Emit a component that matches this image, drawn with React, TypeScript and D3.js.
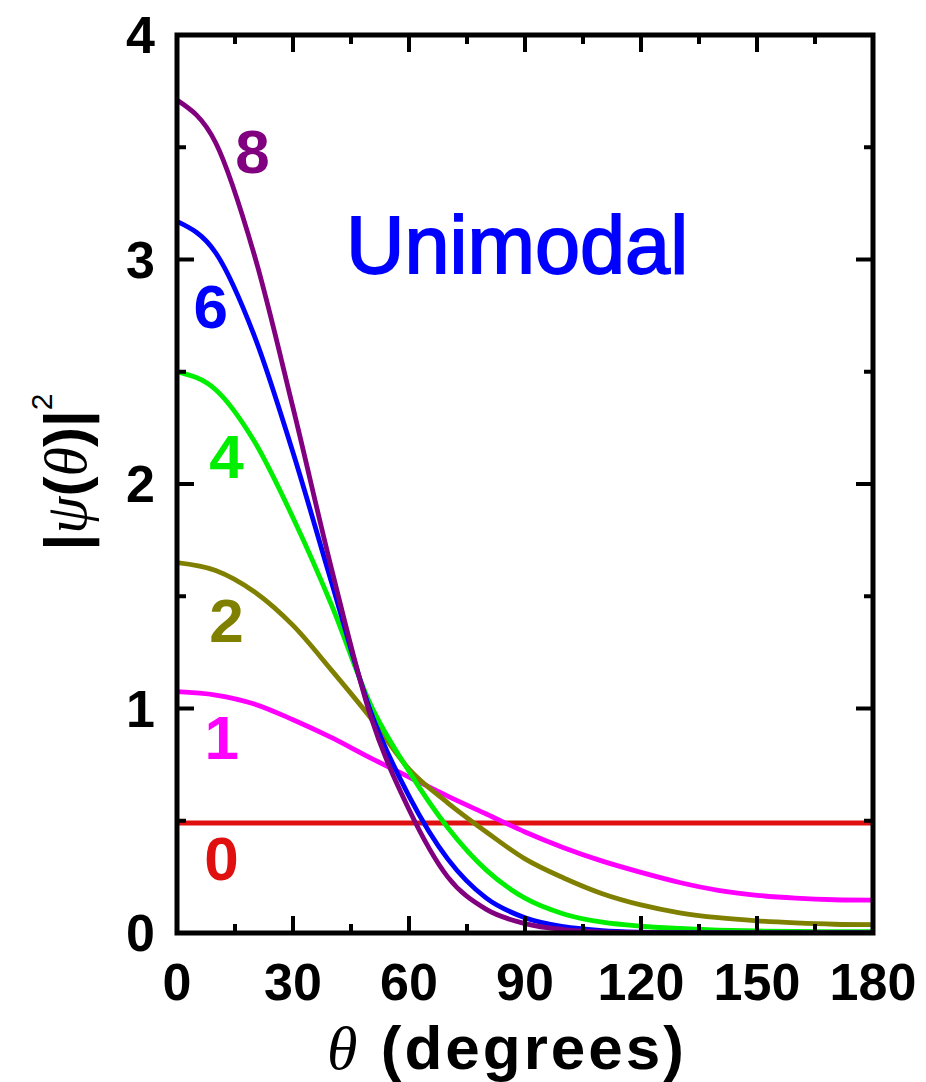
import React from "react";
import * as d3 from "d3";

const thetaDeg = [0, 10, 20, 30, 40, 50, 60, 70, 80, 90, 100, 110, 120, 130, 140, 150, 160, 170, 180];
const n0 = [0.49, 0.49, 0.49, 0.49, 0.49, 0.49, 0.49, 0.49, 0.49, 0.49, 0.49, 0.49, 0.49, 0.49, 0.49, 0.49, 0.49, 0.49, 0.49];
const n1 = [1.075, 1.06, 1.02, 0.95, 0.87, 0.78, 0.695, 0.61, 0.53, 0.45, 0.38, 0.32, 0.27, 0.225, 0.19, 0.168, 0.155, 0.148, 0.146];
const n2 = [1.65, 1.615, 1.52, 1.37, 1.17, 0.96, 0.73, 0.58, 0.45, 0.33, 0.245, 0.175, 0.125, 0.09, 0.068, 0.054, 0.045, 0.039, 0.037];
const n4 = [2.5, 2.42, 2.19, 1.85, 1.46, 1.02, 0.72, 0.47, 0.28, 0.155, 0.085, 0.048, 0.03, 0.02, 0.013, 0.009, 0.007, 0.006, 0.006];
const n6 = [3.17, 3.03, 2.66, 2.14, 1.56, 0.99, 0.61, 0.33, 0.155, 0.068, 0.028, 0.011, 0.004, 0.0015, 0.001, 0.001, 0.001, 0.001, 0.001];
const n8 = [3.71, 3.52, 3.02, 2.34, 1.62, 0.97, 0.55, 0.25, 0.105, 0.042, 0.015, 0.005, 0.002, 0.001, 0.001, 0.001, 0.001, 0.001, 0.001];

const seriesNames = ["0", "1", "2", "4", "6", "8"];
const seriesValues = [n0, n1, n2, n4, n6, n8];
const seriesColors = ["#e01010", "#ff00ff", "#808000", "#00ee00", "#0000ff", "#800080"];
// label anchor positions in data units (theta, value) for the curve labels
const labelTheta = [11.5, 11.6, 12.8, 12.8, 8.7, 19.5];
const labelValue = [0.235, 0.775, 1.295, 2.025, 2.695, 3.385];

const xTicks = [0, 30, 60, 90, 120, 150, 180];
const xMinor = [15, 45, 75, 105, 135, 165];
const yTicks = [0, 1, 2, 3, 4];
const yMinor = [0.5, 1.5, 2.5, 3.5];

const W = 926;
const H = 1082;
const L = 177, R = 873, T = 35, B = 933;

export default function App() {
  const x = d3.scaleLinear().domain([0, 180]).range([L, R]);
  const y = d3.scaleLinear().domain([0, 4]).range([B, T]);
  const line = d3
    .line<number>()
    .x((_, i) => x(thetaDeg[i]))
    .y((d) => y(d))
    .curve(d3.curveMonotoneX);

  const sans = "'Liberation Sans', Arial, sans-serif";
  const serif = "'Liberation Serif', 'Times New Roman', serif";
  const majorLen = 17;
  const minorLen = 9;

  return (
    <svg
      width={W}
      height={H}
      style={{ position: "absolute", left: 0, top: 0, background: "#fff" }}
    >
      <defs>
        <clipPath id="plot">
          <rect x={L} y={T - 2} width={R - L} height={B - T + 2} />
        </clipPath>
      </defs>

      <g clipPath="url(#plot)">
        {seriesValues.map((vals, i) => (
          <path
            key={seriesNames[i]}
            d={line(vals) || ""}
            fill="none"
            stroke={seriesColors[i]}
            strokeWidth={4.8}
          />
        ))}
      </g>

      {/* ticks */}
      <g stroke="#000" strokeWidth={4}>
        {xTicks.map((t) => (
          <g key={"xt" + t}>
            <line x1={x(t)} x2={x(t)} y1={B} y2={B - majorLen} />
            <line x1={x(t)} x2={x(t)} y1={T} y2={T + majorLen} />
          </g>
        ))}
        {xMinor.map((t) => (
          <g key={"xm" + t}>
            <line x1={x(t)} x2={x(t)} y1={B} y2={B - minorLen} />
            <line x1={x(t)} x2={x(t)} y1={T} y2={T + minorLen} />
          </g>
        ))}
        {yTicks.map((t) => (
          <g key={"yt" + t}>
            <line x1={L} x2={L + majorLen} y1={y(t)} y2={y(t)} />
            <line x1={R} x2={R - majorLen} y1={y(t)} y2={y(t)} />
          </g>
        ))}
        {yMinor.map((t) => (
          <g key={"ym" + t}>
            <line x1={L} x2={L + minorLen} y1={y(t)} y2={y(t)} />
            <line x1={R} x2={R - minorLen} y1={y(t)} y2={y(t)} />
          </g>
        ))}
      </g>

      {/* frame */}
      <rect x={L} y={T} width={R - L} height={B - T} fill="none" stroke="#000" strokeWidth={5} />

      {/* tick labels */}
      <g fontFamily={sans} fontWeight="bold" fontSize={52} fill="#000">
        {xTicks.map((t) => (
          <text key={"xl" + t} x={x(t)} y={1000} textAnchor="middle">
            {t}
          </text>
        ))}
        {yTicks.map((t) => (
          <text key={"yl" + t} x={155} y={y(t) + 18} textAnchor="end">
            {t}
          </text>
        ))}
      </g>

      {/* curve labels */}
      <g fontFamily={sans} fontWeight="bold" fontSize={62}>
        {seriesNames.map((nm, i) => (
          <text
            key={"lab" + nm}
            x={x(labelTheta[i])}
            y={y(labelValue[i])}
            textAnchor="middle"
            fill={seriesColors[i]}
          >
            {nm}
          </text>
        ))}
      </g>

      <text x={346} y={273} fontFamily={sans} fontSize={81} fill="#0000ff" stroke="#0000ff" strokeWidth={1.8}>
        Unimodal
      </text>

      {/* x axis title */}
      <text x={507} y={1069} textAnchor="middle" fontSize={62} letterSpacing={3} fill="#000">
        <tspan fontFamily={serif} fontStyle="italic">θ</tspan>
        <tspan fontFamily={sans} fontWeight="bold"> (degrees)</tspan>
      </text>

      {/* y axis title */}
      <text transform="translate(86,472) rotate(-90)" textAnchor="middle" fontSize={60} fill="#000">
        <tspan fontFamily={sans} fontWeight="bold">|</tspan>
        <tspan fontFamily={serif} fontStyle="italic">ψ</tspan>
        <tspan fontFamily={sans} fontWeight="bold">(</tspan>
        <tspan fontFamily={serif} fontStyle="italic">θ</tspan>
        <tspan fontFamily={sans} fontWeight="bold">)|</tspan>
        <tspan fontFamily={sans} fontSize={30} dy={-34}>2</tspan>
      </text>
    </svg>
  );
}
